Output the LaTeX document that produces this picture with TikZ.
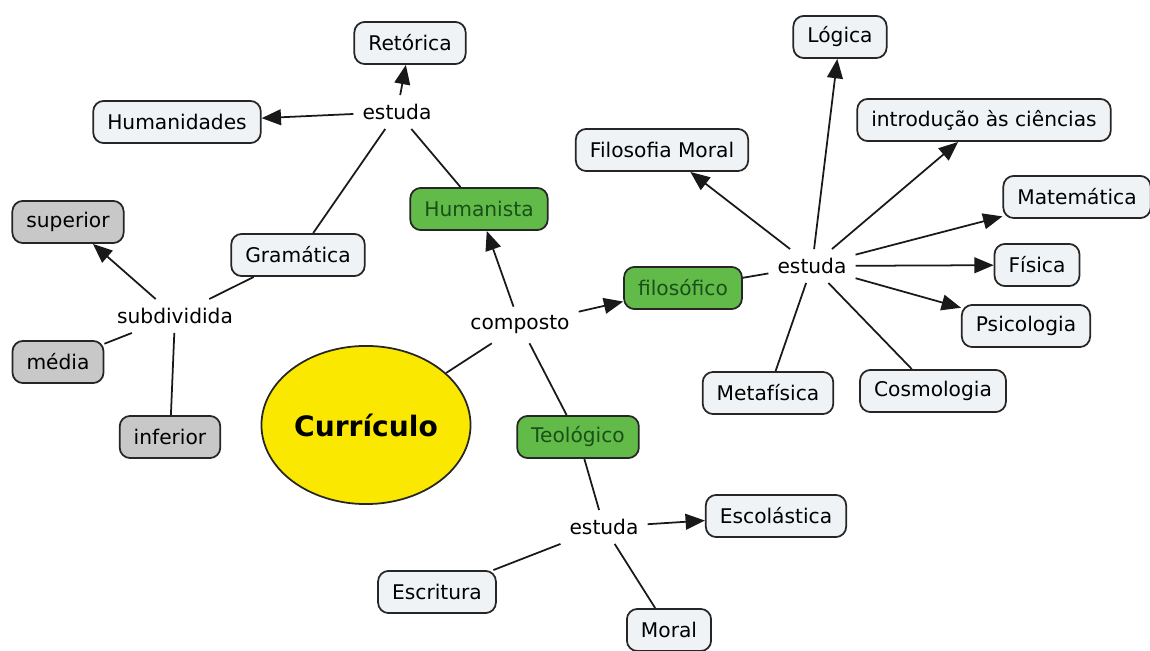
\documentclass[tikz,border=0pt]{standalone}
\usepackage{fontspec}
\setmainfont{DejaVu Sans}
\usepackage{xcolor}
\usepackage{tikz}
\usetikzlibrary{shapes,arrows.meta,positioning,calc}

\definecolor{boxfill}{RGB}{240,243,246}
\definecolor{greyfill}{RGB}{200,200,200}
\definecolor{greenfill}{RGB}{98,186,72}
\definecolor{greentext}{RGB}{25,80,25}
\definecolor{yellowfill}{RGB}{250,232,0}

\begin{document}
\begin{tikzpicture}[x=0.02cm, y=-0.02cm,
    font=\fontsize{11.5}{14}\selectfont,
    concept/.style={draw=black!85, line width=1pt, rounded corners=6pt,
        fill=boxfill, minimum height=24pt, inner xsep=8pt},
    greybox/.style={concept, fill=greyfill},
    greenbox/.style={concept, fill=greenfill, text=greentext},
    linkword/.style={inner sep=5pt},
    link/.style={line width=1pt, black!90},
    arr/.style={link, -{Triangle[length=11pt,width=9pt]}}]

    \useasboundingbox (0,0) rectangle (1150,651);

    % Central concept
    \node[ellipse, draw=black!85, line width=1pt, fill=yellowfill,
        inner sep=0pt, minimum width=119pt, minimum height=90pt,
        font=\fontsize{16}{19}\selectfont\bfseries] (curr) at (366,425) {Currículo};

    % Branches of the curriculum
    \node[linkword] (comp) at (520,325) {composto};
    \node[greenbox] (human) at (479,209) {Humanista};
    \node[greenbox] (filo) at (683,288) {filosófico};
    \node[greenbox] (teol) at (578,437) {Teológico};

    % Humanist branch
    \node[linkword] (estH) at (397,112) {estuda};
    \node[concept] (reto) at (410,43) {Retórica};
    \node[concept] (huma) at (177,122) {Humanidades};
    \node[concept] (gram) at (298,255) {Gramática};
    \node[linkword] (subd) at (175,316) {subdividida};
    \node[greybox] (sup) at (68,222) {superior};
    \node[greybox] (med) at (58,362) {média};
    \node[greybox] (inf) at (170,437) {inferior};

    % Philosophical branch
    \node[linkword] (estF) at (812,266) {estuda};
    \node[concept] (logi) at (840,37) {Lógica};
    \node[concept] (intro) at (984,120) {introdução às ciências};
    \node[concept] (fmor) at (662,150) {Filosofia Moral};
    \node[concept] (mate) at (1077,197) {Matemática};
    \node[concept] (fisi) at (1037,265) {Física};
    \node[concept] (psic) at (1026,326) {Psicologia};
    \node[concept] (cosm) at (933,391) {Cosmologia};
    \node[concept] (meta) at (768,393) {Metafísica};

    % Theological branch
    \node[linkword] (estT) at (604,527) {estuda};
    \node[concept] (esco) at (776,516) {Escolástica};
    \node[concept] (escr) at (437,592) {Escritura};
    \node[concept] (mora) at (669,630) {Moral};

    % Connectors
    \draw[link] (curr) -- (comp);
    \draw[arr] (comp) -- (human);
    \draw[arr] (comp) -- (filo);
    \draw[link] (comp) -- (teol);

    \draw[link] (human) -- (estH);
    \draw[link] (gram) -- (estH);
    \draw[arr] (estH) -- (reto);
    \draw[arr] (estH) -- (huma);
    \draw[link] (gram) -- (subd);
    \draw[arr] (subd) -- (sup);
    \draw[link] (subd) -- (med);
    \draw[link] (subd) -- (inf);

    \draw[link] (filo) -- (estF);
    \foreach \t in {logi, intro, fmor, mate, fisi, psic}
        \draw[arr] (estF) -- (\t);
    \draw[link] (estF) -- (cosm);
    \draw[link] (estF) -- (meta);

    \draw[link] (teol) -- (estT);
    \draw[arr] (estT) -- (esco);
    \draw[link] (estT) -- (escr);
    \draw[link] (estT) -- (mora);

\end{tikzpicture}
\end{document}
